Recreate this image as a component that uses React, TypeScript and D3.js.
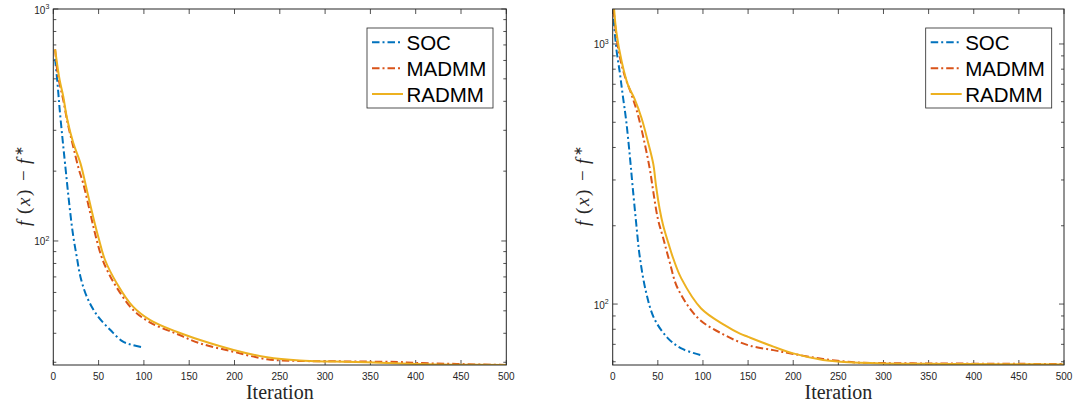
import React from 'react';
import * as d3 from 'd3';

// ---------- data ----------
const xTicks = [0, 50, 100, 150, 200, 250, 300, 350, 400, 450, 500];
const seriesNames = ['SOC', 'MADMM', 'RADMM'];
const seriesColors = ['#0072BD', '#D95319', '#EDB120'];
const xLabel = 'Iteration';

// left panel
const socL_it = [2, 5, 7, 10, 13, 18, 22, 26, 30, 37, 48, 63, 77, 88, 100];
const socL_v = [610, 460, 370, 280, 215, 140, 105, 85, 70, 57.5, 48, 41.3, 36.8, 35.6, 34.7];
const madmmL_it = [2, 5, 11, 16, 22, 28, 33, 40, 46, 53, 60, 70, 88, 107, 136, 162, 199, 236, 272, 309, 346, 380, 401, 445, 500];
const madmmL_v = [670, 520, 405, 320, 255, 205, 177, 136, 108, 86, 74, 63, 50.5, 44.5, 39.8, 36.2, 33.3, 30.9, 30.4, 30.3, 30.2, 30.1, 29.8, 29.5, 29.2];
const radmmL_it = [2, 7, 11, 15, 22, 30, 37, 44, 50, 57, 70, 88, 107, 136, 162, 199, 236, 272, 309, 346, 401, 445, 500];
const radmmL_v = [670, 494, 420, 340, 265, 216, 166, 127, 103, 83, 65.8, 52.1, 45.6, 40.6, 37.4, 33.9, 31.5, 30.5, 30.2, 30.0, 29.5, 29.3, 29.2];

// right panel
const socR_it = [1, 4, 8, 11, 15, 19, 22, 26, 30, 37, 46, 61, 76, 98];
const socR_v = [1250, 960, 770, 640, 505, 370, 285, 205, 152, 111, 88, 74, 67.5, 63.6];
const madmmR_it = [1, 6, 13, 21, 28, 35, 41, 45, 50, 56, 63, 72, 95, 124, 150, 178, 200, 233, 270, 300, 350, 400, 450, 500];
const madmmR_v = [1350, 962, 760, 637, 533, 421, 332, 270, 213, 179, 145.5, 115, 88, 76, 69.5, 66.5, 64.3, 61.5, 59.6, 59.3, 59.1, 59.0, 58.9, 58.8];
const radmmR_it = [1, 4, 10, 17, 24, 32, 39, 45, 48, 52, 56, 62, 67, 76, 98, 124, 141, 150, 178, 200, 233, 252, 300, 350, 400, 450, 500];
const radmmR_v = [1450, 1115, 855, 695, 618, 518, 421, 345, 285, 232, 200, 170, 150, 125.5, 96.2, 83, 77, 74.8, 68.6, 64.6, 60.9, 60, 59.1, 58.9, 58.8, 58.7, 58.6];

// ---------- layout ----------
const W = 1074;
const H = 409;
const AX = '#262626';
const dashDot = '7.5,3,2,3';

const panels = [
  {
    id: 'L', x0: 53.3, x1: 506.3, y0: 9, y1: 365, ymin: 29.2, ymax: 1000,
    series: [
      { it: socL_it, v: socL_v }, { it: madmmL_it, v: madmmL_v }, { it: radmmL_it, v: radmmL_v },
    ],
    legend: { x: 367, y: 28, w: 126, h: 80 },
    ylabelX: 30,
  },
  {
    id: 'R', x0: 612.7, x1: 1064, y0: 9, y1: 365, ymin: 58.3, ymax: 1363,
    series: [
      { it: socR_it, v: socR_v }, { it: madmmR_it, v: madmmR_v }, { it: radmmR_it, v: radmmR_v },
    ],
    legend: { x: 925.7, y: 28, w: 126, h: 80 },
    ylabelX: 589,
  },
];

function Panel({ p }: { p: any }) {
  const x = d3.scaleLinear().domain([0, 500]).range([p.x0, p.x1]);
  const y = d3.scaleLog().domain([p.ymin, p.ymax]).range([p.y1, p.y0]);
  const line = d3.line<[number, number]>().x(d => x(d[0])).y(d => y(d[1])).curve(d3.curveCatmullRom.alpha(0.5));

  const major: number[] = [];
  const minor: number[] = [];
  for (let e = 0; e <= 5; e++) {
    for (let k = 1; k <= 9; k++) {
      const v = k * Math.pow(10, e);
      if (v >= p.ymin - 1e-9 && v <= p.ymax + 1e-9) (k === 1 ? major : minor).push(v);
    }
  }
  const cx = (p.x0 + p.x1) / 2;
  const cy = (p.y0 + p.y1) / 2;
  const clipId = 'clip' + p.id;
  const lg = p.legend;

  return (
    <g>
      <defs>
        <clipPath id={clipId}>
          <rect x={p.x0} y={p.y0} width={p.x1 - p.x0} height={p.y1 - p.y0} />
        </clipPath>
      </defs>
      <rect x={p.x0} y={p.y0} width={p.x1 - p.x0} height={p.y1 - p.y0} fill="#fff" />
      {/* x ticks */}
      {xTicks.map(t => (
        <g key={'xt' + t}>
          <line x1={x(t)} x2={x(t)} y1={p.y1} y2={p.y1 - 5} stroke={AX} strokeWidth={0.8} />
          <line x1={x(t)} x2={x(t)} y1={p.y0} y2={p.y0 + 5} stroke={AX} strokeWidth={0.8} />
          <text x={x(t)} y={380} textAnchor="middle" fontSize={10} fontFamily="Liberation Sans, Arial, sans-serif" fill={AX}>{t}</text>
        </g>
      ))}
      {/* y ticks */}
      {major.map(t => (
        <g key={'ym' + t}>
          <line x1={p.x0} x2={p.x0 + 5} y1={y(t)} y2={y(t)} stroke={AX} strokeWidth={0.8} />
          <line x1={p.x1} x2={p.x1 - 5} y1={y(t)} y2={y(t)} stroke={AX} strokeWidth={0.8} />
          <text x={p.x0 - 4} y={y(t) + 4.5} textAnchor="end" fontSize={10} fontFamily="Liberation Sans, Arial, sans-serif" fill={AX}>
            10<tspan dy={-4.5} fontSize={7}>{Math.round(Math.log10(t))}</tspan>
          </text>
        </g>
      ))}
      {minor.map(t => (
        <g key={'yn' + t}>
          <line x1={p.x0} x2={p.x0 + 3} y1={y(t)} y2={y(t)} stroke={AX} strokeWidth={0.8} />
          <line x1={p.x1} x2={p.x1 - 3} y1={y(t)} y2={y(t)} stroke={AX} strokeWidth={0.8} />
        </g>
      ))}
      {/* series */}
      <g clipPath={`url(#${clipId})`}>
        {p.series.map((s: any, i: number) => (
          <path
            key={'s' + i}
            d={line(s.it.map((it: number, j: number) => [it, s.v[j]] as [number, number])) || ''}
            fill="none"
            stroke={seriesColors[i]}
            strokeWidth={2}
            strokeDasharray={i < 2 ? dashDot : undefined}
          />
        ))}
      </g>
      <rect x={p.x0} y={p.y0} width={p.x1 - p.x0} height={p.y1 - p.y0} fill="none" stroke={AX} strokeWidth={1} />
      {/* legend */}
      <rect x={lg.x} y={lg.y} width={lg.w} height={lg.h} fill="#fff" stroke={AX} strokeWidth={0.8} />
      {seriesNames.map((n, i) => {
        const ly = lg.y + 14.3 + i * 25.85;
        return (
          <g key={'lg' + i}>
            <line x1={lg.x + 5} x2={lg.x + 36} y1={ly} y2={ly} stroke={seriesColors[i]} strokeWidth={2}
              strokeDasharray={i < 2 ? dashDot : undefined} />
            <text x={lg.x + 39.5} y={ly + 7.6} fontSize={20.5} fontFamily="Liberation Sans, Arial, sans-serif" fill="#000">{n}</text>
          </g>
        );
      })}
      {/* axis labels */}
      <text x={cx} y={399} textAnchor="middle" fontSize={20} fontFamily="Liberation Serif, Times New Roman, serif" fill={AX}>{xLabel}</text>
      <g transform={`translate(${p.ylabelX},${cy}) rotate(-90)`}>
        <text fontSize={19} fontFamily="Liberation Serif, Times New Roman, serif" fill={AX}>
          <tspan x={-39} fontStyle="italic">f</tspan>
          <tspan x={-27}>(</tspan>
          <tspan x={-19} fontStyle="italic">x</tspan>
          <tspan x={-9}>)</tspan>
          <tspan x={6}>−</tspan>
          <tspan x={23} fontStyle="italic">f</tspan>
          <tspan x={31} dy={-7} fontSize={12}>∗</tspan>
        </text>
      </g>
    </g>
  );
}

export default function App() {
  return (
    <svg width={W} height={H} viewBox={`0 0 ${W} ${H}`} style={{ position: 'absolute', left: 0, top: 0, background: '#fff' }}>
      <rect x={0} y={0} width={W} height={H} fill="#fff" />
      {panels.map(p => <Panel key={p.id} p={p} />)}
    </svg>
  );
}
